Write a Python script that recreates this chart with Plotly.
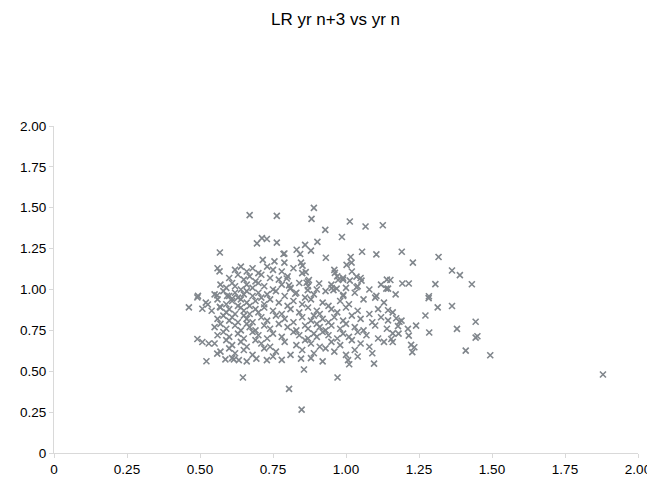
import plotly.graph_objects as go

title_text = "LR yr n+3 vs yr n"
tick_vals = [0, 0.25, 0.5, 0.75, 1.0, 1.25, 1.5, 1.75, 2.0]
tick_text = ["0", "0.25", "0.50", "0.75", "1.00", "1.25", "1.50", "1.75", "2.00"]

# sparse / outlying points
sparse_x = [1.88, 0.848, 0.805, 0.647, 0.971, 1.494, 1.410, 1.444, 1.450, 1.444, 1.380, 1.363, 1.431, 1.390, 1.363,
            1.317, 1.285, 1.283, 1.314, 1.306, 1.272, 1.284, 1.229, 1.215, 1.193, 1.191, 1.223, 1.234, 1.227,
            0.890, 0.882, 0.670, 0.763, 1.013, 1.067, 1.126, 0.929, 0.986, 0.902, 0.860,
            0.695, 0.712, 0.729, 0.763, 0.786, 0.831, 0.843, 0.880, 0.789, 0.931, 1.016, 1.002, 1.019,
            1.055, 1.104, 0.568, 0.567, 0.462, 0.493, 0.491, 0.508, 0.527, 0.568, 0.559, 0.593, 0.610,
            0.491, 0.508, 0.530, 0.559, 0.522, 0.587, 0.616, 0.633, 0.693, 0.729, 0.846, 0.856, 1.007,
            1.011, 1.096, 1.152, 1.144, 1.144, 1.172, 1.183, 1.178, 1.212, 1.240, 1.215, 1.160, 1.155,
            1.160, 1.144, 1.138, 1.104, 0.715, 0.755, 0.846, 0.851, 0.862, 0.962, 0.873, 0.865, 0.908,
            0.973, 0.990, 1.013, 1.036, 1.053, 1.036, 0.951, 0.957, 0.968, 0.805, 0.809, 0.797, 0.869,
            0.826, 0.991, 0.789]
sparse_y = [0.48, 0.265, 0.392, 0.462, 0.462, 0.598, 0.626, 0.706, 0.714, 0.803, 0.759, 0.899, 1.032, 1.088, 1.116,
            1.199, 0.737, 0.947, 0.891, 1.033, 0.841, 0.959, 1.164, 1.037, 1.037, 1.231, 0.661, 0.647, 0.617,
            1.499, 1.432, 1.455, 1.450, 1.416, 1.385, 1.393, 1.365, 1.321, 1.291, 1.273,
            1.282, 1.314, 1.309, 1.287, 1.217, 1.243, 1.217, 1.238, 1.220, 1.194, 1.199, 1.151, 1.164,
            1.231, 1.215, 1.226, 1.111, 0.891, 0.961, 0.952, 0.882, 0.908, 0.894, 0.965, 0.961, 0.944,
            0.697, 0.679, 0.670, 0.608, 0.561, 0.573, 0.573, 0.568, 0.577, 0.568, 0.577, 0.511, 0.568,
            0.543, 0.547, 1.058, 1.005, 0.873, 0.824, 0.803, 0.776, 0.759, 0.779, 0.718, 0.732, 0.697,
            0.679, 0.811, 1.005, 0.961, 1.181, 1.172, 1.164, 1.146, 1.106, 1.102, 1.058, 1.041, 1.037,
            1.058, 1.072, 1.054, 1.079, 1.054, 1.014, 1.009, 0.996, 1.005, 1.025, 1.005, 1.067, 0.996,
            0.974, 0.967, 1.164]

# dense cluster points
dense_x = [0.56, 0.62, 0.64, 0.66, 0.68, 0.70, 0.73, 0.75, 0.78, 0.82, 0.85, 0.96, 1.02,
           0.60, 0.63, 0.65, 0.67, 0.69, 0.71, 0.74, 0.77, 0.80, 0.87, 0.97, 0.99, 1.05, 1.14,
           0.57, 0.59, 0.61, 0.62, 0.64, 0.66, 0.68, 0.70, 0.72, 0.75, 0.78, 0.81, 0.84, 0.87, 0.90, 0.95, 1.00, 1.04, 1.08, 1.12,
           0.55, 0.58, 0.60, 0.62, 0.63, 0.65, 0.66, 0.68, 0.70, 0.71, 0.73, 0.76, 0.79, 0.83, 0.86, 0.89, 0.93, 0.99, 1.03, 1.10, 1.17,
           0.52, 0.56, 0.59, 0.61, 0.63, 0.64, 0.66, 0.67, 0.69, 0.72, 0.74, 0.77, 0.80, 0.82, 0.85, 0.88, 0.92, 0.94, 0.98, 1.01, 1.06, 1.13,
           0.54, 0.57, 0.59, 0.60, 0.62, 0.64, 0.65, 0.67, 0.69, 0.70, 0.72, 0.75, 0.78, 0.81, 0.84, 0.87, 0.90, 0.91, 0.95, 0.97, 1.00, 1.04, 1.08, 1.11, 1.16,
           0.56, 0.58, 0.60, 0.61, 0.63, 0.65, 0.66, 0.68, 0.71, 0.73, 0.76, 0.79, 0.82, 0.85, 0.88, 0.89, 0.92, 0.94, 0.96, 0.99, 1.02, 1.05, 1.09, 1.12, 1.19,
           0.55, 0.57, 0.59, 0.62, 0.64, 0.66, 0.67, 0.69, 0.72, 0.74, 0.77, 0.80, 0.83, 0.86, 0.87, 0.90, 0.91, 0.93, 0.95, 0.98, 1.00, 1.03, 1.06, 1.10, 1.14,
           0.56, 0.58, 0.60, 0.63, 0.65, 0.68, 0.70, 0.73, 0.75, 0.78, 0.82, 0.84, 0.87, 0.89, 0.90, 0.92, 0.94, 0.97, 0.99, 1.01, 1.04, 1.07, 1.11, 1.18,
           0.55, 0.59, 0.61, 0.64, 0.66, 0.69, 0.71, 0.74, 0.79, 0.83, 0.86, 0.88, 0.91, 0.95, 0.98, 1.02, 1.05, 1.08, 1.13,
           0.57, 0.60, 0.62, 0.65, 0.68, 0.72, 0.76, 0.81, 0.85, 0.89, 0.93, 0.96, 1.00, 1.03, 1.09,
           0.61, 0.66, 0.75, 0.78, 0.88, 0.92, 1.04]
dense_y = [1.13, 1.12, 1.14, 1.11, 1.13, 1.10, 1.14, 1.12, 1.11, 1.13, 1.10, 1.12, 1.11,
           1.07, 1.09, 1.06, 1.08, 1.05, 1.09, 1.07, 1.06, 1.08, 1.05, 1.08, 1.06, 1.07, 1.06,
           1.03, 1.01, 1.04, 1.02, 1.00, 1.03, 1.01, 1.04, 1.02, 1.00, 1.03, 1.01, 1.04, 1.02, 1.00, 1.03, 1.01, 1.02, 1.00, 1.03,
           0.97, 0.99, 0.96, 0.98, 0.95, 0.97, 0.99, 0.96, 0.98, 0.95, 0.97, 0.99, 0.96, 0.98, 0.95, 0.97, 0.99, 0.96, 0.98, 0.95, 0.97,
           0.92, 0.94, 0.91, 0.93, 0.90, 0.94, 0.92, 0.90, 0.93, 0.91, 0.94, 0.92, 0.90, 0.93, 0.91, 0.94, 0.92, 0.90, 0.93, 0.91, 0.94, 0.92,
           0.87, 0.89, 0.86, 0.88, 0.85, 0.89, 0.87, 0.85, 0.88, 0.86, 0.89, 0.87, 0.85, 0.88, 0.86, 0.89, 0.87, 0.85, 0.88, 0.86, 0.89, 0.87, 0.85, 0.88, 0.86,
           0.82, 0.84, 0.81, 0.83, 0.80, 0.84, 0.82, 0.80, 0.83, 0.81, 0.84, 0.82, 0.80, 0.83, 0.81, 0.84, 0.82, 0.80, 0.83, 0.81, 0.84, 0.82, 0.80, 0.83, 0.81,
           0.77, 0.79, 0.76, 0.78, 0.75, 0.79, 0.77, 0.75, 0.78, 0.76, 0.79, 0.77, 0.75, 0.78, 0.76, 0.79, 0.77, 0.75, 0.78, 0.76, 0.79, 0.77, 0.75, 0.78, 0.76,
           0.72, 0.74, 0.71, 0.73, 0.70, 0.74, 0.72, 0.70, 0.73, 0.71, 0.74, 0.72, 0.70, 0.73, 0.71, 0.74, 0.72, 0.70, 0.73, 0.71, 0.74, 0.72, 0.70, 0.73,
           0.67, 0.69, 0.66, 0.68, 0.65, 0.69, 0.67, 0.65, 0.68, 0.66, 0.69, 0.67, 0.65, 0.68, 0.66, 0.69, 0.67, 0.65, 0.68,
           0.62, 0.64, 0.61, 0.63, 0.60, 0.64, 0.62, 0.60, 0.63, 0.61, 0.64, 0.62, 0.60, 0.63, 0.61,
           0.58, 0.56, 0.59, 0.57, 0.58, 0.56, 0.59]

x_vals = sparse_x + dense_x
y_vals = sparse_y + dense_y

fig = go.Figure(go.Scatter(
    x=x_vals, y=y_vals, mode="markers",
    marker=dict(symbol="x-thin", size=6, line=dict(width=1.6, color="#80868c"), color="#80868c"),
    showlegend=False,
))

font = dict(family="Arial, Liberation Sans, sans-serif", size=13.5, color="#000000")
axis_common = dict(
    tickvals=tick_vals, ticktext=tick_text, range=[0, 2.0],
    showgrid=False, zeroline=False, showline=True, linecolor="#d9d9d9", linewidth=1,
    ticks="outside", ticklen=4, tickcolor="#d9d9d9", tickfont=font,
)
fig.update_layout(
    width=655, height=481,
    margin=dict(l=34, r=25, t=118, b=34),
    paper_bgcolor="white", plot_bgcolor="white",
    title=dict(text=title_text, x=0.5, xanchor="center", y=1 - 11 / 481, yanchor="middle",
               font=dict(family="Arial, Liberation Sans, sans-serif", size=17, color="#000000")),
    xaxis=axis_common, yaxis=axis_common,
)
fig.write_html("out.html")
